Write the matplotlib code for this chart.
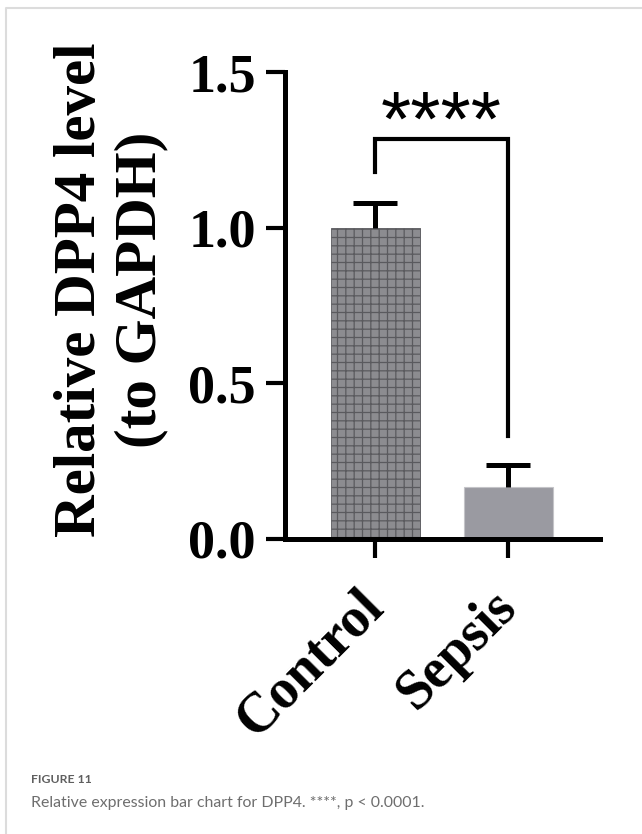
import matplotlib.pyplot as plt
from matplotlib.lines import Line2D

groups = ['Control', 'Sepsis']
means = [1.0, 0.167]
errs = [0.08, 0.072]
y_ticks = [0.0, 0.5, 1.0, 1.5]
y_label = 'Relative DPP4 level\n(to GAPDH)'
stars = '****'

plt.rcParams['hatch.color'] = '#5a5a5e'
plt.rcParams['hatch.linewidth'] = 0.9

fig = plt.figure(figsize=(6.42, 8.34), dpi=100)
ax = fig.add_axes([285 / 642, 1 - 539 / 834, 315 / 642, 467 / 834])

serif = 'Liberation Serif'
x = [0, 1]

# barki z kratka i bez
bars = ax.bar(x, means, width=0.67, zorder=2)
bars[0].set_facecolor('#8c8c90')
bars[0].set_edgecolor('#5a5a5e')
bars[0].set_hatch('++')
bars[0].set_linewidth(0.6)
bars[1].set_facecolor('#9a9aa1')
bars[1].set_edgecolor('#c4c4c8')
bars[1].set_linewidth(0.8)

# errorbary tylko w gore (dolne kapsle ukryte)
_, caps, _ = ax.errorbar(x, means, yerr=[[0, 0], errs], fmt='none', ecolor='black',
                         elinewidth=3.6, capsize=15.8, capthick=3.6, zorder=3)
for c in caps:
    if list(c.get_ydata()) == means:
        c.set_visible(False)

# nawias istotnosci
br_top = 1.285
ax.plot([0, 0, 1, 1], [1.18, br_top, br_top, 0.33], color='black', lw=3.0,
        solid_joinstyle='miter', zorder=3, clip_on=False)
ax.text(0.5, 1.33, stars, ha='center', va='center', fontsize=56,
        family='Liberation Sans')

ax.set_xlim(-0.677, 1.69)
ax.set_ylim(0, 1.5)
ax.set_yticks(y_ticks)
ax.set_yticklabels([f'{v:.1f}' for v in y_ticks], fontsize=39,
                   fontweight='bold', family=serif)
ax.set_xticks(x)
ax.set_xticklabels(groups, fontsize=40, fontweight='bold', family=serif,
                   rotation=45, ha='right', va='center', rotation_mode='anchor')

ax.spines['top'].set_visible(False)
ax.spines['right'].set_visible(False)
ax.spines['left'].set_linewidth(3.6)
ax.spines['bottom'].set_linewidth(3.6)
ax.tick_params(axis='both', length=14, width=3.0, pad=7)
ax.tick_params(axis='x', pad=29)

ax.set_ylabel(y_label, fontsize=42.5, fontweight='bold', family=serif,
              linespacing=1.15)
ax.yaxis.set_label_coords(-0.37, 0.533)

# ramka karty i podpis
fig.add_artist(Line2D([6 / 642, 6 / 642, 1.0], [0.0, 1 - 8 / 834, 1 - 8 / 834],
                      color='#dcdcdc', lw=1.5, transform=fig.transFigure))
fig.text(31 / 642, 1 - 783 / 834, 'FIGURE 11', fontsize=8.8, color='#5f5f5f',
         family='Lato', fontweight='bold', va='baseline')
fig.text(31 / 642, 1 - 807 / 834,
         'Relative expression bar chart for DPP4. ****, p < 0.0001.',
         fontsize=11.4, color='#6e6e6e', family='Lato', va='baseline')

plt.savefig('out.png', dpi=100)
